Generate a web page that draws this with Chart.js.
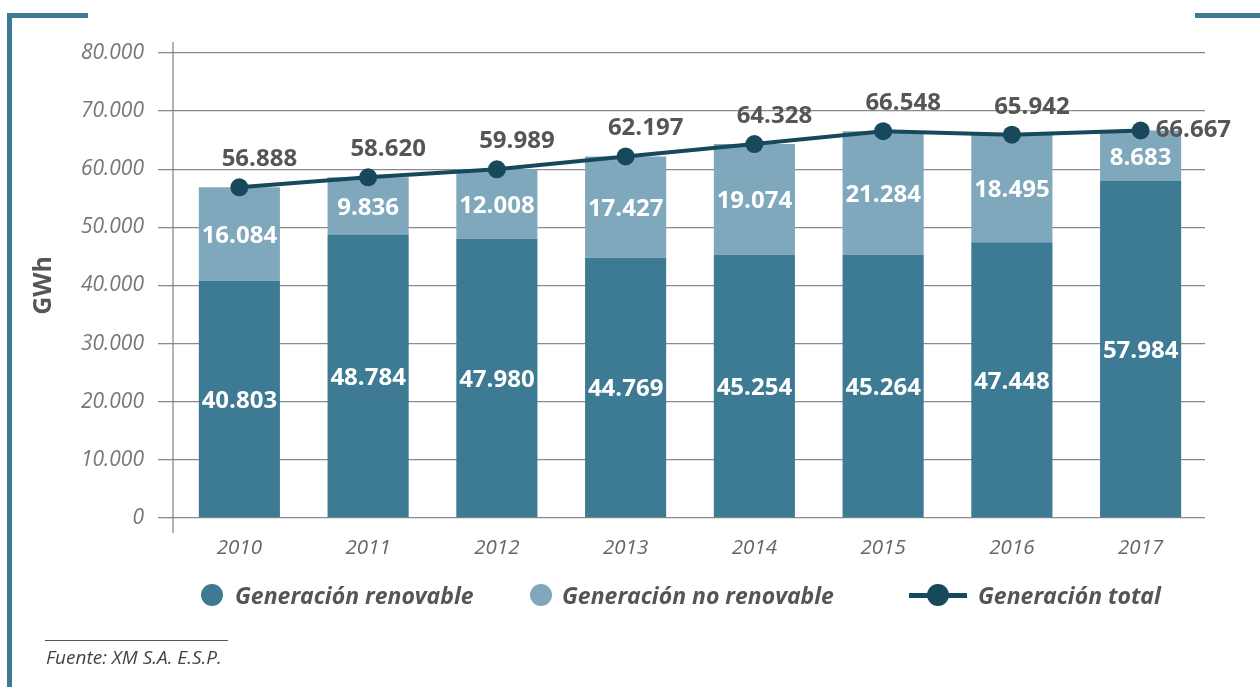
<!DOCTYPE html>
<html>
<head>
<meta charset="utf-8">
<script src="https://cdn.jsdelivr.net/npm/chart.js@4.4.1/dist/chart.umd.min.js"></script>
<style>
	body { margin: 0; background: #fff; }
	#wrap { position: relative; width: 1260px; height: 687px; overflow: hidden; font-family: 'Open Sans', sans-serif; }
	#chart { position: absolute; left: 0; top: 0; }
	.bracket { position: absolute; background: #3d7a94; }
	.legend-item { position: absolute; top: 580px; height: 30px; line-height: 30px; font-weight: 700; font-style: italic; font-size: 23px; color: #555; white-space: nowrap; }
	.dot { position: absolute; width: 22px; height: 22px; border-radius: 50%; top: 4px; }
	.legend-line { position: absolute; height: 5px; top: 13px; }
	#source-rule { position: absolute; left: 45px; top: 640px; width: 183px; height: 1px; background: #555; }
	#source { position: absolute; left: 46px; top: 644px; font-size: 19px; font-style: italic; color: #444; }
</style>
</head>
<body>
<div id="wrap">
	<div class="bracket" style="left:7px;top:13px;width:5px;height:674px"></div>
	<div class="bracket" style="left:7px;top:13px;width:81px;height:5px"></div>
	<div class="bracket" style="left:1195px;top:13px;width:65px;height:5px"></div>
	<canvas id="chart" width="1260" height="687"></canvas>
	<div id="legend"></div>
	<div id="source-rule"></div>
	<div id="source">Fuente: XM S.A. E.S.P.</div>
</div>
<script>
const years = ['2010', '2011', '2012', '2013', '2014', '2015', '2016', '2017'];
const renovable = [40803, 48784, 47980, 44769, 45254, 45264, 47448, 57984];
const noRenovable = [16084, 9836, 12008, 17427, 19074, 21284, 18495, 8683];
const total = [56888, 58620, 59989, 62197, 64328, 66548, 65942, 66667];
const yTicks = [0, 10000, 20000, 30000, 40000, 50000, 60000, 70000, 80000];

const colors = {
	renovable: '#3d7a94',
	noRenovable: '#7fa8bd',
	total: '#18485b',
	grid: '#8a8a8a',
	text: '#555555',
};

const fmt = (v) => String(v).replace(/\B(?=(\d{3})+(?!\d))/g, '.');

// axis line that sticks out above and below the plot area
const axisLine = {
	id: 'axisLine',
	beforeDatasetsDraw(chart) {
		const { ctx, chartArea } = chart;
		const x = chartArea.left - 2;
		ctx.save();
		ctx.strokeStyle = colors.grid;
		ctx.lineWidth = 1.3;
		ctx.beginPath();
		ctx.moveTo(x, chartArea.top - 11);
		ctx.lineTo(x, chartArea.bottom + 15);
		ctx.stroke();
		ctx.restore();
	},
};

const valueLabels = {
	id: 'valueLabels',
	afterDatasetsDraw(chart) {
		const ctx = chart.ctx;
		ctx.save();
		ctx.font = '700 24px "Open Sans"';
		ctx.textAlign = 'center';
		ctx.textBaseline = 'middle';
		ctx.fillStyle = '#ffffff';
		[0, 1].forEach((di) => {
			chart.getDatasetMeta(di).data.forEach((bar, i) => {
				const { x, y, base } = bar.getProps(['x', 'y', 'base'], true);
				ctx.fillText(fmt(chart.data.datasets[di].data[i]), x, (y + base) / 2 + 2);
			});
		});
		ctx.fillStyle = colors.text;
		const pts = chart.getDatasetMeta(2).data;
		pts.forEach((pt, i) => {
			const label = fmt(total[i]);
			if (i === pts.length - 1) {
				ctx.textAlign = 'left';
				ctx.fillText(label, pt.x + 15, pt.y);
			} else {
				ctx.textAlign = 'center';
				ctx.fillText(label, pt.x + 20, pt.y - 28);
			}
		});
		ctx.restore();
	},
};

const chart = new Chart(document.getElementById('chart'), {
	type: 'bar',
	data: {
		labels: years,
		datasets: [
			{
				label: 'Generación renovable',
				data: renovable,
				backgroundColor: colors.renovable,
				stack: 'gen',
				order: 1,
				barPercentage: 0.63,
				categoryPercentage: 1,
			},
			{
				label: 'Generación no renovable',
				data: noRenovable,
				backgroundColor: colors.noRenovable,
				stack: 'gen',
				order: 1,
				barPercentage: 0.63,
				categoryPercentage: 1,
			},
			{
				type: 'line',
				label: 'Generación total',
				data: total,
				stack: 'total',
				order: 0,
				borderColor: colors.total,
				backgroundColor: colors.total,
				borderWidth: 4,
				pointRadius: 9,
				pointHoverRadius: 9,
				pointBackgroundColor: colors.total,
				pointBorderWidth: 0,
				tension: 0,
			},
		],
	},
	options: {
		responsive: false,
		animation: false,
		events: [],
		layout: { padding: { left: 0, right: 55, top: 53, bottom: 0 } },
		plugins: {
			legend: { display: false },
			tooltip: { enabled: false },
		},
		scales: {
			x: {
				stacked: true,
				grid: { display: false, drawTicks: false },
				border: { display: false },
				ticks: {
					color: '#666',
					padding: 18,
					font: { family: 'Open Sans', size: 20.5, style: 'italic' },
				},
				afterFit: (scale) => { scale.height = 169; },
			},
			y: {
				stacked: true,
				min: 0,
				max: 80000,
				afterBuildTicks: (scale) => { scale.ticks = yTicks.map((v) => ({ value: v })); },
				grid: { color: colors.grid, lineWidth: 1.3, tickLength: 17, tickColor: colors.grid },
				border: { display: false },
				ticks: {
					color: '#777',
					padding: 14,
					font: { family: 'Open Sans', size: 21, style: 'italic' },
					callback: (v) => fmt(v),
				},
				title: {
					display: true,
					text: 'GWh',
					color: colors.text,
					padding: { top: 29, bottom: 0 },
					font: { family: 'Open Sans', size: 25, weight: '700' },
				},
				afterFit: (scale) => { scale.width = 175; },
			},
		},
	},
	plugins: [axisLine, valueLabels],
});

// legend from the dataset definitions
const legendPos = [
	{ marker: 201, text: 235 },
	{ marker: 530, text: 562 },
	{ marker: 909, text: 978 },
];
const legend = document.getElementById('legend');
chart.data.datasets.forEach((ds, i) => {
	const p = legendPos[i];
	const item = document.createElement('div');
	item.className = 'legend-item';
	item.style.left = p.text + 'px';
	item.textContent = ds.label;
	legend.appendChild(item);
	if (ds.type === 'line') {
		const line = document.createElement('div');
		line.className = 'legend-item';
		line.style.left = p.marker + 'px';
		line.style.width = '58px';
		line.innerHTML = '<div class="legend-line" style="left:0;width:58px;background:' + ds.borderColor + '"></div>' +
			'<div class="dot" style="left:18px;background:' + ds.borderColor + '"></div>';
		legend.appendChild(line);
	} else {
		const dot = document.createElement('div');
		dot.className = 'legend-item';
		dot.style.left = p.marker + 'px';
		dot.innerHTML = '<div class="dot" style="left:0;background:' + ds.backgroundColor + '"></div>';
		legend.appendChild(dot);
	}
});
</script>
</body>
</html>
